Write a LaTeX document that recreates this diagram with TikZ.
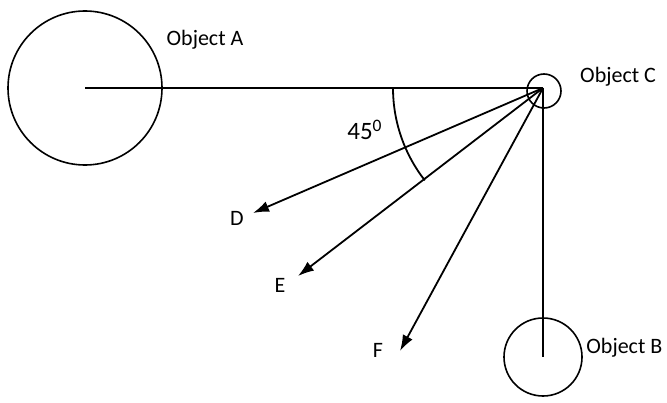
\documentclass[tikz,border=0pt]{standalone}
\usepackage{fontspec}
\setmainfont{Carlito}
\usepackage{tikz}
\usetikzlibrary{arrows.meta,positioning}

\begin{document}
\begin{tikzpicture}[
  x=0.5pt, y=0.5pt,
  font=\fontsize{11}{13}\selectfont,
  body/.style={draw, circle, inner sep=0pt, line width=0.8pt},
  ln/.style={line width=0.9pt},
  arr/.style={-{Latex[length=8pt, width=5.5pt]}, line width=0.9pt},
  lbl/.style={inner sep=1pt}
]
  \useasboundingbox (0,0) rectangle (667,402);
  \node[body, minimum size=77pt] (objA) at (85,314) {};
  \node[body, minimum size=17pt] (objC) at (544,311) {};
  \node[body, minimum size=39pt] (objB) at (543,45) {};
  \coordinate (apex) at (543,314);
  \coordinate (tipD) at (253,189);
  \coordinate (tipE) at (298,126);
  \coordinate (tipF) at (400,51);
  % lines between the objects
  \draw[ln] (objA.center) -- (apex);
  \draw[ln] (apex) -- (objB.center);
  % directions
  \draw[arr] (apex) -- (tipD);
  \draw[arr] (apex) -- (tipE);
  \draw[arr] (apex) -- (tipF);
  \draw[ln] (393,314) arc[start angle=180, end angle=218, radius=75pt];
  % labels
  \node[lbl] (labA) at (205,362) {Object A};
  \node[lbl, right=8pt of objC.east, yshift=7pt] (labC) {Object C};
  \node[lbl, anchor=west] (labB) at (584,54) {Object B};
  \node[lbl] (labD) at (237,184) {D};
  \node[lbl] (labE) at (280,117) {E};
  \node[lbl] (labF) at (378,52) {F};
  \node[lbl, font=\fontsize{12.5}{14}\selectfont] (ang) at (365,272) {45\textsuperscript{0}};
\end{tikzpicture}
\end{document}
